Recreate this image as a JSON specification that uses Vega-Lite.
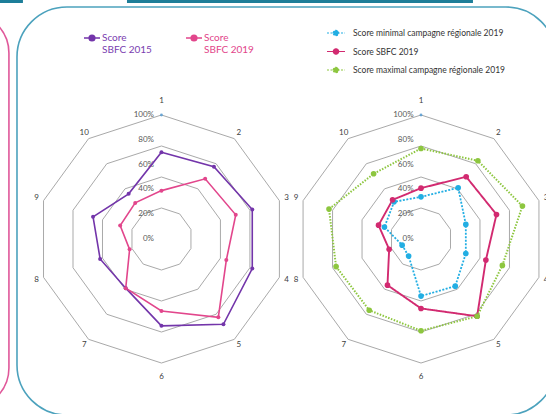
{
  "$schema": "https://vega.github.io/schema/vega-lite/v6.json",
  "width": 546,
  "height": 414,
  "padding": 0,
  "autosize": {"type": "none"},
  "background": "white",
  "config": {"view": {"stroke": null}, "font": "Lato", "text": {"font": "Lato"}},
  "datasets": {
    "scores": [
      {"chart": "A", "series": "Score SBFC 2015", "axis": 1, "value": 0.70},
      {"chart": "A", "series": "Score SBFC 2015", "axis": 2, "value": 0.72},
      {"chart": "A", "series": "Score SBFC 2015", "axis": 3, "value": 0.77},
      {"chart": "A", "series": "Score SBFC 2015", "axis": 4, "value": 0.77},
      {"chart": "A", "series": "Score SBFC 2015", "axis": 5, "value": 0.85},
      {"chart": "A", "series": "Score SBFC 2015", "axis": 6, "value": 0.70},
      {"chart": "A", "series": "Score SBFC 2015", "axis": 7, "value": 0.49},
      {"chart": "A", "series": "Score SBFC 2015", "axis": 8, "value": 0.52},
      {"chart": "A", "series": "Score SBFC 2015", "axis": 9, "value": 0.58},
      {"chart": "A", "series": "Score SBFC 2015", "axis": 10, "value": 0.45},
      {"chart": "A", "series": "Score SBFC 2019", "axis": 1, "value": 0.39},
      {"chart": "A", "series": "Score SBFC 2019", "axis": 2, "value": 0.60},
      {"chart": "A", "series": "Score SBFC 2019", "axis": 3, "value": 0.63},
      {"chart": "A", "series": "Score SBFC 2019", "axis": 4, "value": 0.55},
      {"chart": "A", "series": "Score SBFC 2019", "axis": 5, "value": 0.78},
      {"chart": "A", "series": "Score SBFC 2019", "axis": 6, "value": 0.58},
      {"chart": "A", "series": "Score SBFC 2019", "axis": 7, "value": 0.49},
      {"chart": "A", "series": "Score SBFC 2019", "axis": 8, "value": 0.27},
      {"chart": "A", "series": "Score SBFC 2019", "axis": 9, "value": 0.35},
      {"chart": "A", "series": "Score SBFC 2019", "axis": 10, "value": 0.36},
      {"chart": "B", "series": "Score minimal campagne régionale 2019", "axis": 1, "value": 0.34},
      {"chart": "B", "series": "Score minimal campagne régionale 2019", "axis": 2, "value": 0.51},
      {"chart": "B", "series": "Score minimal campagne régionale 2019", "axis": 3, "value": 0.38},
      {"chart": "B", "series": "Score minimal campagne régionale 2019", "axis": 4, "value": 0.38},
      {"chart": "B", "series": "Score minimal campagne régionale 2019", "axis": 5, "value": 0.47},
      {"chart": "B", "series": "Score minimal campagne régionale 2019", "axis": 6, "value": 0.46},
      {"chart": "B", "series": "Score minimal campagne régionale 2019", "axis": 7, "value": 0.17},
      {"chart": "B", "series": "Score minimal campagne régionale 2019", "axis": 8, "value": 0.16},
      {"chart": "B", "series": "Score minimal campagne régionale 2019", "axis": 9, "value": 0.31},
      {"chart": "B", "series": "Score minimal campagne régionale 2019", "axis": 10, "value": 0.37},
      {"chart": "B", "series": "Score SBFC  2019", "axis": 1, "value": 0.41},
      {"chart": "B", "series": "Score SBFC  2019", "axis": 2, "value": 0.62},
      {"chart": "B", "series": "Score SBFC  2019", "axis": 3, "value": 0.64},
      {"chart": "B", "series": "Score SBFC  2019", "axis": 4, "value": 0.55},
      {"chart": "B", "series": "Score SBFC  2019", "axis": 5, "value": 0.77},
      {"chart": "B", "series": "Score SBFC  2019", "axis": 6, "value": 0.56},
      {"chart": "B", "series": "Score SBFC  2019", "axis": 7, "value": 0.46},
      {"chart": "B", "series": "Score SBFC  2019", "axis": 8, "value": 0.27},
      {"chart": "B", "series": "Score SBFC  2019", "axis": 9, "value": 0.36},
      {"chart": "B", "series": "Score SBFC  2019", "axis": 10, "value": 0.39},
      {"chart": "B", "series": "Score maximal campagne régionale 2019", "axis": 1, "value": 0.73},
      {"chart": "B", "series": "Score maximal campagne régionale 2019", "axis": 2, "value": 0.78},
      {"chart": "B", "series": "Score maximal campagne régionale 2019", "axis": 3, "value": 0.86},
      {"chart": "B", "series": "Score maximal campagne régionale 2019", "axis": 4, "value": 0.69},
      {"chart": "B", "series": "Score maximal campagne régionale 2019", "axis": 5, "value": 0.77},
      {"chart": "B", "series": "Score maximal campagne régionale 2019", "axis": 6, "value": 0.74},
      {"chart": "B", "series": "Score maximal campagne régionale 2019", "axis": 7, "value": 0.71},
      {"chart": "B", "series": "Score maximal campagne régionale 2019", "axis": 8, "value": 0.72},
      {"chart": "B", "series": "Score maximal campagne régionale 2019", "axis": 9, "value": 0.78},
      {"chart": "B", "series": "Score maximal campagne régionale 2019", "axis": 10, "value": 0.65}
    ],
    "grid": [
      {"chart": "A", "ring": 0.25, "axis": [1, 2, 3, 4, 5, 6, 7, 8, 9, 10]},
      {"chart": "A", "ring": 0.5, "axis": [1, 2, 3, 4, 5, 6, 7, 8, 9, 10]},
      {"chart": "A", "ring": 0.75, "axis": [1, 2, 3, 4, 5, 6, 7, 8, 9, 10]},
      {"chart": "A", "ring": 1, "axis": [1, 2, 3, 4, 5, 6, 7, 8, 9, 10]},
      {"chart": "B", "ring": 0.25, "axis": [1, 2, 3, 4, 5, 6, 7, 8, 9, 10]},
      {"chart": "B", "ring": 0.5, "axis": [1, 2, 3, 4, 5, 6, 7, 8, 9, 10]},
      {"chart": "B", "ring": 0.75, "axis": [1, 2, 3, 4, 5, 6, 7, 8, 9, 10]},
      {"chart": "B", "ring": 1, "axis": [1, 2, 3, 4, 5, 6, 7, 8, 9, 10]}
    ],
    "cats": [
      {"chart": "A", "axis": [1, 2, 3, 4, 5, 6, 7, 8, 9, 10]},
      {"chart": "B", "axis": [1, 2, 3, 4, 5, 6, 7, 8, 9, 10]}
    ],
    "ticks": [
      {"chart": "A", "pct": [0, 0.2, 0.4, 0.6, 0.8, 1]},
      {"chart": "B", "pct": [0, 0.2, 0.4, 0.6, 0.8, 1]}
    ]
  },
  "layer": [
    {
      "data": {"values": [{}]},
      "mark": {"type": "rect", "filled": false, "stroke": "#E0589A", "strokeWidth": 1.6, "cornerRadius": 40},
      "encoding": {
        "x": {"datum": -3.7, "type": "quantitative", "scale": {"domain": [-1.302, 3.101], "nice": false, "zero": false}, "axis": null},
        "x2": {"datum": -1.23},
        "y": {"datum": 1.823, "type": "quantitative", "scale": {"domain": [-1.411, 1.927], "nice": false, "zero": false}, "axis": null},
        "y2": {"datum": -1.363}
      }
    },
    {
      "data": {"values": [{}]},
      "mark": {"type": "rect", "filled": false, "stroke": "#4CA2BD", "strokeWidth": 1.6, "cornerRadius": 50},
      "encoding": {
        "x": {"datum": -1.165, "type": "quantitative", "scale": {"domain": [-1.302, 3.101], "nice": false, "zero": false}, "axis": null},
        "x2": {"datum": 3.181},
        "y": {"datum": 1.871, "type": "quantitative", "scale": {"domain": [-1.411, 1.927], "nice": false, "zero": false}, "axis": null},
        "y2": {"datum": -1.419}
      }
    },
    {
      "data": {"values": [{}]},
      "mark": {"type": "rect", "fill": "#1D7E99"},
      "encoding": {
        "x": {"datum": -1.302, "type": "quantitative", "scale": {"domain": [-1.302, 3.101], "nice": false, "zero": false}, "axis": null},
        "x2": {"datum": -1.117},
        "y": {"datum": 1.927, "type": "quantitative", "scale": {"domain": [-1.411, 1.927], "nice": false, "zero": false}, "axis": null},
        "y2": {"datum": 1.903}
      }
    },
    {
      "data": {"values": [{}]},
      "mark": {"type": "rect", "fill": "#1D7E99"},
      "encoding": {
        "x": {"datum": -0.278, "type": "quantitative", "scale": {"domain": [-1.302, 3.101], "nice": false, "zero": false}, "axis": null},
        "x2": {"datum": 2.512},
        "y": {"datum": 1.927, "type": "quantitative", "scale": {"domain": [-1.411, 1.927], "nice": false, "zero": false}, "axis": null},
        "y2": {"datum": 1.903}
      }
    },
    {
      "data": {"name": "grid"},
      "transform": [
        {"flatten": ["axis"]},
        {"calculate": "datum.chart === 'B' ? 2.093 : 0", "as": "cx"},
        {"calculate": "(datum.axis - 1) * PI / 5", "as": "ang"},
        {"calculate": "datum.cx + datum.ring * sin(datum.ang)", "as": "px"},
        {"calculate": "datum.ring * cos(datum.ang)", "as": "py"}
      ],
      "mark": {"type": "line", "interpolate": "linear-closed", "stroke": "#A9A9A9", "strokeWidth": 1},
      "encoding": {
        "x": {"field": "px", "type": "quantitative", "scale": {"domain": [-1.302, 3.101], "nice": false, "zero": false}, "axis": null},
        "y": {"field": "py", "type": "quantitative", "scale": {"domain": [-1.411, 1.927], "nice": false, "zero": false}, "axis": null},
        "detail": [{"field": "chart"}, {"field": "ring"}],
        "order": {"field": "axis", "type": "quantitative"}
      }
    },
    {
      "data": {"name": "cats"},
      "transform": [
        {"flatten": ["axis"]},
        {"calculate": "datum.chart === 'B' ? 2.093 : 0", "as": "cx"},
        {"calculate": "(datum.axis - 1) * PI / 5", "as": "ang"},
        {"calculate": "datum.axis === 1 || datum.axis === 6 ? 1.11 : 1.06", "as": "lr"},
        {"calculate": "datum.cx + datum.lr * sin(datum.ang)", "as": "px"},
        {"calculate": "datum.lr * cos(datum.ang)", "as": "py"}
      ],
      "mark": {"type": "text", "fontSize": 8, "color": "#404040", "align": "center", "baseline": "middle"},
      "encoding": {
        "x": {"field": "px", "type": "quantitative", "scale": {"domain": [-1.302, 3.101], "nice": false, "zero": false}, "axis": null},
        "y": {"field": "py", "type": "quantitative", "scale": {"domain": [-1.411, 1.927], "nice": false, "zero": false}, "axis": null},
        "text": {"field": "axis", "type": "nominal"}
      }
    },
    {
      "data": {"name": "ticks"},
      "transform": [
        {"flatten": ["pct"]},
        {"calculate": "(datum.chart === 'B' ? 2.093 : 0) - 0.06", "as": "px"},
        {"calculate": "datum.pct", "as": "py"}
      ],
      "mark": {"type": "text", "fontSize": 8, "color": "#595959", "align": "right", "baseline": "middle"},
      "encoding": {
        "x": {"field": "px", "type": "quantitative", "scale": {"domain": [-1.302, 3.101], "nice": false, "zero": false}, "axis": null},
        "y": {"field": "py", "type": "quantitative", "scale": {"domain": [-1.411, 1.927], "nice": false, "zero": false}, "axis": null},
        "text": {"field": "pct", "type": "quantitative", "format": ".0%"}
      }
    },
    {
      "data": {"name": "cats"},
      "transform": [
        {"calculate": "datum.chart === 'B' ? 2.093 : 0", "as": "px"},
        {"calculate": "1", "as": "py"}
      ],
      "mark": {"type": "point", "filled": true, "size": 8, "color": "#3A8FD0"},
      "encoding": {
        "x": {"field": "px", "type": "quantitative", "scale": {"domain": [-1.302, 3.101], "nice": false, "zero": false}, "axis": null},
        "y": {"field": "py", "type": "quantitative", "scale": {"domain": [-1.411, 1.927], "nice": false, "zero": false}, "axis": null}
      }
    },
    {
      "data": {"name": "scores"},
      "transform": [
        {"filter": "datum.chart === 'A'"},
        {"calculate": "(datum.axis - 1) * PI / 5", "as": "ang"},
        {"calculate": "datum.value * sin(datum.ang)", "as": "px"},
        {"calculate": "datum.value * cos(datum.ang)", "as": "py"}
      ],
      "encoding": {
        "x": {"field": "px", "type": "quantitative", "scale": {"domain": [-1.302, 3.101], "nice": false, "zero": false}, "axis": null},
        "y": {"field": "py", "type": "quantitative", "scale": {"domain": [-1.411, 1.927], "nice": false, "zero": false}, "axis": null},
        "color": {
          "field": "series", "type": "nominal",
          "scale": {"domain": ["Score SBFC 2015", "Score SBFC 2019"], "range": ["#7335AA", "#E2468C"]},
          "legend": {
            "orient": "none", "legendX": 83, "legendY": 29, "direction": "horizontal", "title": null,
            "padding": 0,
            "symbolType": "M-1,0H1M-0.35,0A0.35,0.35 0 1,1 0.35,0A0.35,0.35 0 1,1 -0.35,0Z",
            "symbolSize": 256, "symbolStrokeWidth": 1.6,
            "labelFont": "Lato", "labelFontSize": 10, "labelOffset": 1, "columnPadding": 30,
            "labelExpr": "['Score', replace(datum.label, 'Score ', '')]",
            "encode": {
              "labels": {"update": {"fill": {"signal": "datum.value === 'Score SBFC 2015' ? '#7A3DB0' : '#E2458A'"}}},
              "symbols": {"update": {
                "fill": {"signal": "datum.value === 'Score SBFC 2015' ? '#7335AA' : '#E2468C'"},
                "stroke": {"signal": "datum.value === 'Score SBFC 2015' ? '#7335AA' : '#E2468C'"}
              }}
            }
          }
        },
        "order": {"field": "axis", "type": "quantitative"}
      },
      "layer": [
        {"mark": {"type": "line", "interpolate": "linear-closed", "strokeWidth": 1.6}},
        {"mark": {"type": "point", "filled": true, "size": 16, "opacity": 1}}
      ]
    },
    {
      "data": {"name": "scores"},
      "transform": [
        {"filter": "datum.chart === 'B'"},
        {"calculate": "(datum.axis - 1) * PI / 5", "as": "ang"},
        {"calculate": "2.093 + datum.value * sin(datum.ang)", "as": "px"},
        {"calculate": "datum.value * cos(datum.ang)", "as": "py"}
      ],
      "encoding": {
        "x": {"field": "px", "type": "quantitative", "scale": {"domain": [-1.302, 3.101], "nice": false, "zero": false}, "axis": null},
        "y": {"field": "py", "type": "quantitative", "scale": {"domain": [-1.411, 1.927], "nice": false, "zero": false}, "axis": null},
        "color": {
          "field": "series", "type": "nominal",
          "scale": {"domain": ["Score minimal campagne régionale 2019", "Score SBFC  2019", "Score maximal campagne régionale 2019"], "range": ["#22AEE3", "#D22A70", "#8DC63F"]},
          "legend": {
            "orient": "none", "legendX": 326, "legendY": 23, "direction": "vertical", "title": null,
            "padding": 0,
            "symbolType": "M-1,0H1M-0.3,0A0.3,0.3 0 1,1 0.3,0A0.3,0.3 0 1,1 -0.3,0Z",
            "symbolSize": 324, "symbolStrokeWidth": 1.2,
            "labelFont": "Lato", "labelFontSize": 8.5, "labelColor": "#333333", "labelOffset": 7, "rowPadding": 2.5,
            "encode": {
              "symbols": {"update": {
                "fill": {"signal": "datum.value === 'Score SBFC  2019' ? '#D22A70' : (datum.value === 'Score maximal campagne régionale 2019' ? '#8DC63F' : '#22AEE3')"},
                "stroke": {"signal": "datum.value === 'Score SBFC  2019' ? '#D22A70' : (datum.value === 'Score maximal campagne régionale 2019' ? '#8DC63F' : '#22AEE3')"},
                "strokeDash": {"signal": "datum.value === 'Score SBFC  2019' ? [] : [2, 1.5]"}
              }}
            }
          }
        },
        "order": {"field": "axis", "type": "quantitative"}
      },
      "layer": [
        {
          "mark": {"type": "line", "interpolate": "linear-closed"},
          "encoding": {
            "strokeDash": {"field": "series", "type": "nominal", "scale": {"domain": ["Score minimal campagne régionale 2019", "Score SBFC  2019", "Score maximal campagne régionale 2019"], "range": [[2, 1.5], [1, 0], [1.5, 1.5]]}, "legend": null},
            "strokeWidth": {"field": "series", "type": "nominal", "scale": {"domain": ["Score minimal campagne régionale 2019", "Score SBFC  2019", "Score maximal campagne régionale 2019"], "range": [1.8, 2, 1.1]}, "legend": null}
          }
        },
        {"mark": {"type": "point", "filled": true, "size": 32, "opacity": 1}}
      ]
    }
  ],
  "resolve": {"scale": {"color": "independent"}}
}
